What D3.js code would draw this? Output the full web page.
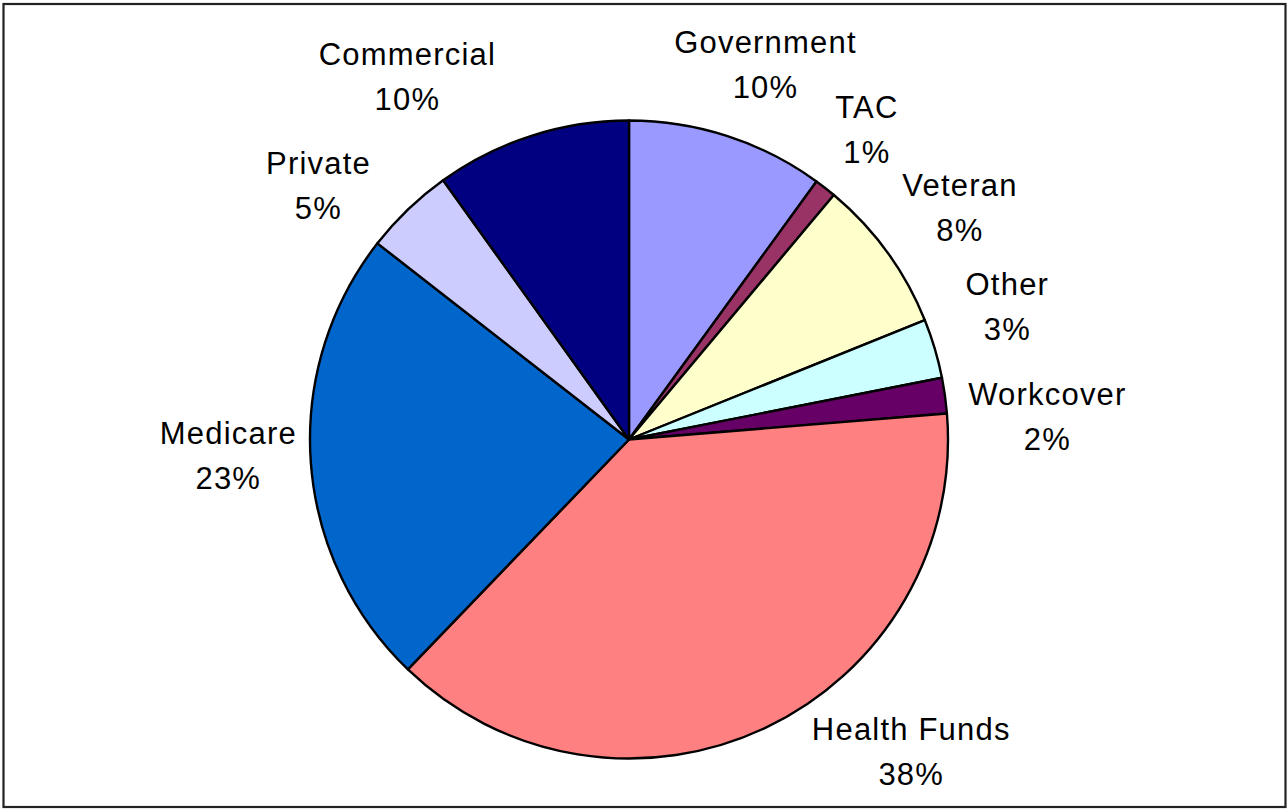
<!DOCTYPE html>
<html>
<head>
<meta charset="utf-8">
<script src="https://cdn.jsdelivr.net/npm/d3@7"></script>
<style>
  body { margin: 0; background: #fff; }
  svg text { font-family: "Liberation Sans", Arial, sans-serif; font-size: 31px; letter-spacing: 1.2px; fill: #000; }
</style>
</head>
<body>
<div id="chart"></div>
<script>
// data (clockwise from 12 o'clock)
var categories = ["Government", "TAC", "Veteran", "Other", "Workcover",
                  "Health Funds", "Medicare", "Private", "Commercial"];
var shares = [10.0, 1.1, 7.8, 3.0, 1.8, 38.49, 23.35, 4.56, 9.9];
var colors = ["#9999FF", "#993366", "#FFFFCC", "#CCFFFF", "#660066",
              "#FF8080", "#0066CC", "#CCCCFF", "#000080"];

// label layout: angle shift from the slice middle (degrees) and distance from centre
var labelShift = [2, -0.5, 1, -2.8, 4.8, -16.7, 1.8, -6.9, -13.6];
var labelDist = [399, 391, 404, 401, 419, 421, 401, 401, 425];

var width = 1288, height = 810;
var cx = 629, cy = 439.5, radius = 319;

var svg = d3.select("#chart").append("svg")
    .attr("width", width)
    .attr("height", height);

// chart area border
svg.append("rect")
    .attr("x", 3.5)
    .attr("y", 4)
    .attr("width", 1282)
    .attr("height", 803)
    .attr("fill", "#fff")
    .attr("stroke", "#222")
    .attr("stroke-width", 2.2);

var data = categories.map(function(c, i) {
    return {name: c, value: shares[i], color: colors[i], shift: labelShift[i], dist: labelDist[i]};
});
var total = d3.sum(shares);

var pie = d3.pie()
    .sort(null)
    .value(function(d) { return d.value; });

var arc = d3.arc()
    .innerRadius(0)
    .outerRadius(radius);

var g = svg.append("g")
    .attr("transform", "translate(" + cx + "," + cy + ")");

var arcs = pie(data);

g.selectAll("path.slice")
    .data(arcs)
    .enter().append("path")
    .attr("class", "slice")
    .attr("d", arc)
    .attr("fill", function(d) { return d.data.color; })
    .attr("stroke", "#000")
    .attr("stroke-width", 2.4)
    .attr("stroke-linejoin", "round");

// labels: name on the first line, percentage on the second
var pct = d3.format(".0f");
var labels = g.selectAll("text.label")
    .data(arcs)
    .enter().append("text")
    .attr("class", "label")
    .attr("text-anchor", "middle")
    .attr("transform", function(d) {
        var a = (d.startAngle + d.endAngle) / 2 + d.data.shift * Math.PI / 180;
        var x = Math.sin(a) * d.data.dist;
        var y = -Math.cos(a) * d.data.dist;
        return "translate(" + x + "," + y + ")";
    });

labels.append("tspan")
    .attr("x", 0)
    .attr("y", -11.5)
    .text(function(d) { return d.data.name; });

labels.append("tspan")
    .attr("x", 0)
    .attr("y", 33.5)
    .text(function(d) { return pct(d.data.value / total * 100) + "%"; });
</script>
</body>
</html>
